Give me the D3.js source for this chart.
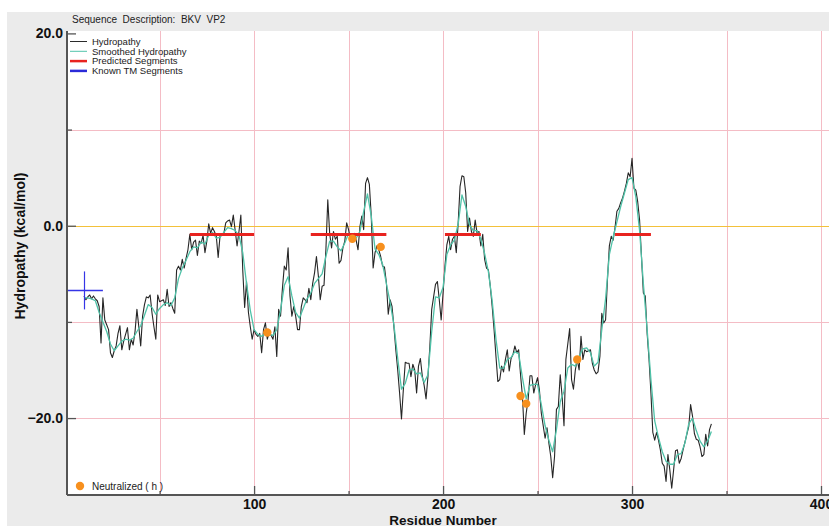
<!DOCTYPE html>
<html>
<head>
<meta charset="utf-8">
<script src="https://cdn.jsdelivr.net/npm/d3@7/dist/d3.min.js"></script>
<style>
  html, body { margin: 0; padding: 0; background: #ffffff; }
  svg { display: block; font-family: "Liberation Sans", Arial, sans-serif; }
</style>
</head>
<body>
<svg id="chart" width="829" height="526"></svg>
<script>
// Per-residue hydropathy, starting at residue 10
const hydropathyStart = 10;
const hydropathy = [
  -7.3, -7.7, -7.4, -7.2, -7.6, -7.3, -7.6, -7.8, -8.4, -12.2,
  -7.5, -9.8, -10.3, -10.8, -13.2, -13.7, -13.0, -12.5, -11.2, -10.4,
  -12.9, -12.0, -11.3, -10.6, -12.9, -11.8, -12.4, -11.0, -8.7, -10.5,
  -12.5, -9.4, -8.2, -7.4, -7.5, -7.2, -9.1, -10.5, -11.8, -7.2,
  -7.9, -7.8, -7.7, -8.3, -6.6, -8.4, -8.0, -8.6, -9.1, -4.6,
  -4.2, -4.6, -3.5, -4.4, -3.4, -2.5, -0.9, -2.5, -1.7, -1.5,
  -3.1, -1.6, -1.8, -1.0, -2.8, -1.6, 0.2, -0.8, -0.2, -0.6,
  -1.1, -3.3, -1.0, -0.9, -0.8, 0.3, 0.5, 0.6, -0.1, 1.1,
  -0.5, -2.1, -0.6, 1.1, -4.6, -8.5, -5.8, -9.0, -10.5, -11.8,
  -10.8, -11.3, -11.5, -11.2, -13.2, -10.8, -10.1, -11.8, -11.1, -11.4,
  -11.8, -10.5, -13.6, -8.7, -9.4, -6.5, -4.2, -4.6, -2.3, -7.3,
  -9.4, -8.4, -9.4, -10.8, -10.8, -8.4, -7.5, -7.7, -8.0, -6.5,
  -7.7, -6.0, -4.9, -3.2, -5.2, -7.7, -6.3, -6.2, -2.5, 2.7,
  -0.8, -2.3, -0.6, -1.4, -1.1, -3.9, -3.6, -2.3, -1.6, 0.3,
  -0.4, -1.5, -1.1, -0.8, -1.5, -2.5, -0.1, 1.0, -0.4, 4.4,
  5.0, 4.3, 1.0, -4.4, -2.8, -2.1, -2.5, -3.2, -4.2, -4.3,
  -5.9, -9.2, -7.7, -8.4, -10.5, -12.9, -15.0, -17.4, -20.1, -17.0,
  -14.2, -14.3, -14.3, -15.7, -14.4, -15.0, -17.4, -14.6, -13.8, -15.6,
  -16.6, -18.0, -15.7, -12.6, -8.7, -7.4, -6.1, -5.8, -7.7, -9.8,
  -7.0, -4.2, -2.0, -1.1, -2.5, -1.4, -1.1, -2.8, 0.3, 4.1,
  5.2, 5.1, 3.4, -0.6, 0.8, -0.6, -1.1, 0.6, -0.8, -0.6,
  -2.1, -0.9, -3.5, -4.4, -4.6, -6.3, -8.4, -10.8, -13.6, -16.2,
  -16.0, -14.6, -15.2, -13.9, -12.9, -15.1, -13.8, -13.4, -12.5, -13.2,
  -12.9, -15.5, -17.7, -21.7, -19.5, -18.1, -15.6, -15.6, -17.4, -16.5,
  -15.8, -17.1, -19.5, -20.8, -22.1, -21.0, -22.6, -24.0, -26.2, -24.0,
  -19.1, -18.8, -15.5, -17.7, -20.8, -13.9, -12.3, -10.7, -16.0, -17.0,
  -15.0, -13.9, -15.0, -11.5, -13.9, -12.9, -13.1, -13.0, -12.9, -14.3,
  -15.0, -15.4, -15.2, -13.6, -9.1, -10.1, -9.8, -5.6, -2.1, -1.1,
  -1.5, -0.2, 1.5, 1.8, 2.4, 2.9, 3.6, 4.4, 5.5, 5.1,
  7.0, 3.9, 3.7, 2.5, 0.6, -3.2, -7.0, -7.3, -11.2, -13.9,
  -17.4, -21.5, -22.3, -21.5, -22.3, -23.3, -24.7, -25.0, -26.6, -23.8,
  -25.4, -27.3, -25.4, -23.4, -23.3, -24.7, -24.2, -23.3, -22.5, -21.7,
  -20.9, -18.6, -19.8, -21.6, -22.2, -22.3, -23.0, -24.0, -23.8, -21.7,
  -22.9, -21.2, -20.6
];

// Smoothed hydropathy, every second residue from residue 10
const smoothedStart = 10;
const smoothedStep = 2;
const smoothed = [
  -7.5, -7.5, -7.6, -7.8, -9.0, -10.0, -11.0, -12.3, -13.0, -12.5,
  -12.0, -11.8, -11.9, -11.7, -11.0, -10.4, -9.3, -8.2, -8.5, -9.2,
  -8.6, -8.2, -8.0, -8.3, -7.5, -5.5, -4.4, -3.6, -2.7, -2.2,
  -2.3, -1.7, -1.9, -1.0, -0.7, -1.3, -1.2, -0.7, -0.2, -0.3,
  -0.5, -1.0, -2.8, -6.0, -8.8, -10.8, -11.3, -11.5, -11.2, -11.3,
  -11.4, -10.8, -8.8, -6.2, -5.3, -7.3, -9.0, -9.6, -8.6, -7.6,
  -7.0, -6.0, -5.5, -5.0, -3.2, -1.6, -1.6, -2.2, -2.6, -1.8,
  -0.8, -1.0, -1.3, -0.6, 1.5, 3.3, 1.0, -2.4, -3.0, -4.0,
  -6.0, -8.0, -10.3, -13.8, -17.0, -16.4, -15.0, -14.9, -15.4, -15.3,
  -16.3, -15.5, -11.0, -7.4, -7.5, -6.4, -3.0, -2.0, -1.5, 0.2,
  3.2, 2.0, 0.1, -0.5, -0.5, -1.4, -2.9, -4.8, -7.8, -11.8,
  -14.8, -14.8, -13.9, -13.7, -13.1, -13.3, -15.8, -18.0, -16.6, -16.5,
  -16.5, -18.6, -20.8, -22.3, -23.5, -21.2, -18.3, -17.2, -14.8, -14.4,
  -14.6, -13.6, -12.8, -12.7, -13.2, -14.6, -14.2, -10.8, -7.6, -3.0,
  -1.2, 0.4, 2.0, 3.4, 4.8, 5.0, 3.0, -0.5, -6.0, -10.8,
  -16.0, -20.3, -22.0, -23.5, -24.5, -24.8, -24.8, -23.8, -23.7, -22.6,
  -20.6, -20.0, -21.3, -22.4, -23.0, -22.4, -21.4
];

// Predicted transmembrane segments: start residue, end residue, drawn level
const predictedStart = [66, 130, 201, 291];
const predictedEnd = [100, 170, 220, 310];
const predictedLevel = -0.9;

// Known TM segment (residues, level) and its marker span
const knownStart = 1;
const knownEnd = 20;
const knownLevel = -6.7;
const knownMarkResidue = 10;
const knownMarkSpan = [-4.75, -8.7];

// Neutralized residues
const neutralResidue = [107, 152, 167, 241, 244, 271];
const neutralValue = [-11.1, -1.35, -2.2, -17.7, -18.5, -13.9];

// Axis ticks
const xMajorTicks = [100, 200, 300, 400];
const xMinorTicks = [50, 150, 250, 350];
const xGrid = [50, 100, 150, 200, 250, 300, 350, 400];
const yMajorTicks = [20, 0, -20];
const yMinorTicks = [10, -10];
const yGrid = [10, -10, -20];

const legendLabels = ["Hydropathy", "Smoothed Hydropathy", "Predicted Segments", "Known TM Segments"];
const legendColors = ["#2b2b2b", "#52c4aa", "#e8231f", "#2b2bd8"];
const legendWidths = [1, 1, 2.5, 2.5];

const W = 829, H = 526;
const plot = { left: 67, top: 31, right: 829, bottom: 495 };
const crisp = v => Math.round(v) + 0.5;

const svg = d3.select("#chart");

// Page and panel backgrounds
svg.append("rect").attr("x", 0).attr("y", 0).attr("width", W).attr("height", H).attr("fill", "#ffffff");
svg.append("rect").attr("x", 7).attr("y", 12).attr("width", W - 7).attr("height", H - 12).attr("fill", "#ebebeb");
svg.append("rect")
  .attr("x", plot.left).attr("y", plot.top)
  .attr("width", plot.right - plot.left).attr("height", plot.bottom - plot.top)
  .attr("fill", "#ffffff");

const x = d3.scaleLinear().domain([1, 400]).range([67, 821]);
const y = d3.scaleLinear().domain([-28, 20.25]).range([495, 31]);

// Grid
svg.append("g").selectAll("line").data(xGrid).join("line")
  .attr("x1", d => crisp(x(d))).attr("x2", d => crisp(x(d)))
  .attr("y1", plot.top).attr("y2", plot.bottom)
  .attr("stroke", "#f4bcc5").attr("stroke-width", 1);
svg.append("g").selectAll("line").data(yGrid).join("line")
  .attr("x1", plot.left).attr("x2", plot.right)
  .attr("y1", d => crisp(y(d))).attr("y2", d => crisp(y(d)))
  .attr("stroke", "#f4bcc5").attr("stroke-width", 1);
svg.append("line")
  .attr("x1", plot.left).attr("x2", plot.right)
  .attr("y1", crisp(y(0))).attr("y2", crisp(y(0)))
  .attr("stroke", "#f3c13a").attr("stroke-width", 1);

// Hydropathy lines
const rawPts = hydropathy.map((v, i) => [hydropathyStart + i, v]);
const smoothPts = smoothed.map((v, i) => [smoothedStart + i * smoothedStep, v]);
const line = d3.line().x(d => x(d[0])).y(d => y(d[1]));

svg.append("path").datum(rawPts)
  .attr("d", line).attr("fill", "none")
  .attr("stroke", "#262626").attr("stroke-width", 1.1).attr("stroke-linejoin", "round");
svg.append("path").datum(smoothPts)
  .attr("d", line).attr("fill", "none")
  .attr("stroke", "#4fc2a8").attr("stroke-width", 1.3).attr("stroke-linejoin", "round");

// Predicted segments
svg.append("g").selectAll("line").data(predictedStart).join("line")
  .attr("x1", d => x(d)).attr("x2", (d, i) => x(predictedEnd[i]))
  .attr("y1", y(predictedLevel)).attr("y2", y(predictedLevel))
  .attr("stroke", "#e8231f").attr("stroke-width", 3);

// Known TM segment
svg.append("line")
  .attr("x1", x(knownStart)).attr("x2", x(knownEnd))
  .attr("y1", crisp(y(knownLevel))).attr("y2", crisp(y(knownLevel)))
  .attr("stroke", "#3535e6").attr("stroke-width", 1.3);
svg.append("line")
  .attr("x1", crisp(x(knownMarkResidue))).attr("x2", crisp(x(knownMarkResidue)))
  .attr("y1", y(knownMarkSpan[0])).attr("y2", y(knownMarkSpan[1]))
  .attr("stroke", "#3535e6").attr("stroke-width", 1.2);

// Neutralized residues
svg.append("g").selectAll("circle").data(neutralResidue).join("circle")
  .attr("cx", d => x(d)).attr("cy", (d, i) => y(neutralValue[i]))
  .attr("r", 4.2).attr("fill", "#f7901e");

// Axes
const fmtY = d3.format(".1f");
const yAxis = svg.append("g").attr("transform", `translate(${plot.left},0)`)
  .call(d3.axisLeft(y).tickValues(yMajorTicks).tickSize(-9).tickSizeOuter(0).tickPadding(4).tickFormat(fmtY));
svg.append("g").attr("transform", `translate(${plot.left},0)`)
  .call(d3.axisLeft(y).tickValues(yMinorTicks).tickSize(-5).tickSizeOuter(0).tickFormat(""))
  .call(g => g.select(".domain").remove());

const xAxis = svg.append("g").attr("transform", `translate(0,${plot.bottom})`)
  .call(d3.axisBottom(x).tickValues(xMajorTicks).tickSize(-9).tickSizeOuter(0).tickPadding(4).tickFormat(d3.format("d")));
svg.append("g").attr("transform", `translate(0,${plot.bottom})`)
  .call(d3.axisBottom(x).tickValues(xMinorTicks).tickSize(-4).tickSizeOuter(0).tickFormat(""))
  .call(g => g.select(".domain").remove());

// Axis lines run along the whole plot edge
yAxis.select(".domain").attr("d", `M0,${plot.top}V${plot.bottom}`);
xAxis.select(".domain").attr("d", `M${plot.left},0H${plot.right}`);

svg.selectAll(".domain").attr("stroke", "#555").attr("stroke-width", 2);
svg.selectAll(".tick line").attr("stroke", "#555").attr("stroke-width", 1.3);
svg.selectAll(".tick text")
  .attr("fill", "#111").style("font-size", "14px").style("font-weight", "bold")
  .style("font-family", '"Liberation Sans", Arial, sans-serif');

// Titles
svg.append("text")
  .attr("x", 443).attr("y", 524.5)
  .attr("text-anchor", "middle")
  .style("font-size", "13.5px").style("font-weight", "bold").attr("fill", "#111")
  .text("Residue Number");
svg.append("text")
  .attr("transform", "translate(25,246) rotate(-90)")
  .attr("text-anchor", "middle")
  .style("font-size", "14px").style("font-weight", "bold").attr("fill", "#111")
  .text("Hydropathy (kcal/mol)");
svg.append("text")
  .attr("x", 72).attr("y", 22.5)
  .style("font-size", "10px").style("white-space", "pre").attr("fill", "#222")
  .text("Sequence  Description:  BKV  VP2");

// Legend
const legend = svg.append("g");
const rowY = [41.5, 51.3, 61.1, 70.9];
legendLabels.forEach((label, i) => {
  legend.append("line")
    .attr("x1", 70).attr("x2", 87).attr("y1", rowY[i]).attr("y2", rowY[i])
    .attr("stroke", legendColors[i]).attr("stroke-width", legendWidths[i]);
  legend.append("text")
    .attr("x", 92).attr("y", rowY[i] + 3.3)
    .style("font-size", "9.5px").attr("fill", "#222")
    .text(label);
});

svg.append("circle").attr("cx", 80).attr("cy", 486).attr("r", 4.2).attr("fill", "#f7901e");
svg.append("text")
  .attr("x", 92).attr("y", 489.5)
  .style("font-size", "10px").style("white-space", "pre").attr("fill", "#222")
  .text("Neutralized ( h )");
</script>
</body>
</html>
